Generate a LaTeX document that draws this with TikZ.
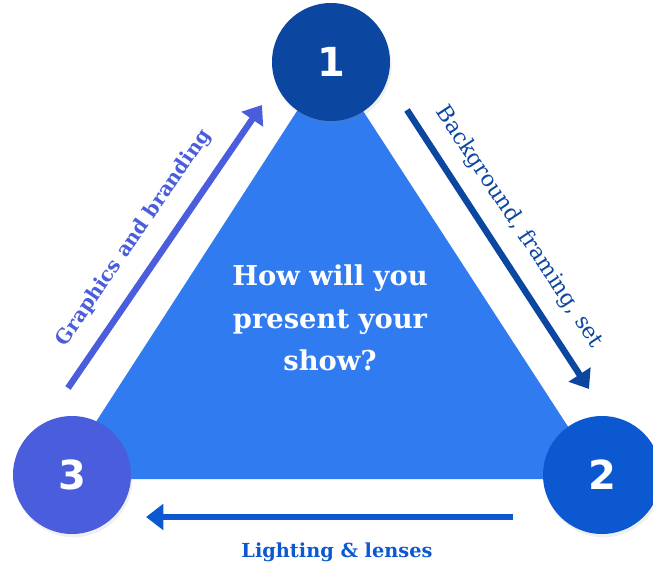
\documentclass[tikz,border=0pt]{standalone}
\usepackage{fontspec}
\setmainfont{DejaVu Serif}
\newfontfamily\numfont{DejaVu Sans}
\usetikzlibrary{arrows.meta,shadows}
\definecolor{tri}{HTML}{2F7BEF}
\definecolor{cone}{HTML}{0B46A0}
\definecolor{ctwo}{HTML}{0C58D0}
\definecolor{cthree}{HTML}{4A5DDC}
\tikzset{
  num/.style={circle, minimum size=88.5pt, inner sep=0pt, text=white,
    font=\numfont\bfseries\fontsize{30}{30}\selectfont,
    drop shadow={opacity=0.12, shadow xshift=1.2pt, shadow yshift=-2.5pt}},
  flow/.style={line width=4.8pt, -{Triangle[length=13pt,width=19pt]}},
  lab/.style={font=\fontsize{15}{17}\selectfont, inner sep=0pt}
}
\begin{document}
\begin{tikzpicture}[x=0.75pt,y=-0.75pt]
\useasboundingbox (0,0) rectangle (653,570);
\fill[tri] (59,479) -- (602,479) -- (330,60) -- cycle;
\node[num, fill=cone] (n1) at (331,62) {1};
\node[num, fill=ctwo] (n2) at (602,475) {2};
\node[num, fill=cthree] (n3) at (72,475) {3};
\node[text=white, align=center, font=\bfseries\fontsize{20.5}{32}\selectfont] (q) at (330,318) {How will you\\present your\\show?};
% arrows
\coordinate (a1s) at (68,388);
\coordinate (a1e) at (262,105);
\coordinate (a2s) at (407,110);
\coordinate (a2e) at (589,389);
\coordinate (a3s) at (513,517);
\coordinate (a3e) at (146,517);
\draw[flow, draw=cthree, fill=cthree] (a1s) -- (a1e);
\draw[flow, draw=cone, fill=cone] (a2s) -- (a2e);
\draw[flow, draw=ctwo, fill=ctwo] (a3s) -- (a3e);
\node[lab, text=cthree, rotate=55.6, font=\bfseries\fontsize{15}{17}\selectfont] (l1) at (134,238) {Graphics and branding};
\node[lab, text=cone, rotate=-56.5, font=\fontsize{16.5}{18}\selectfont] (l2) at (519,227) {Background, framing, set};
\node[lab, text=ctwo, font=\bfseries\fontsize{14.5}{16}\selectfont] (l3) at (337,552) {Lighting \& lenses};
\end{tikzpicture}
\end{document}
